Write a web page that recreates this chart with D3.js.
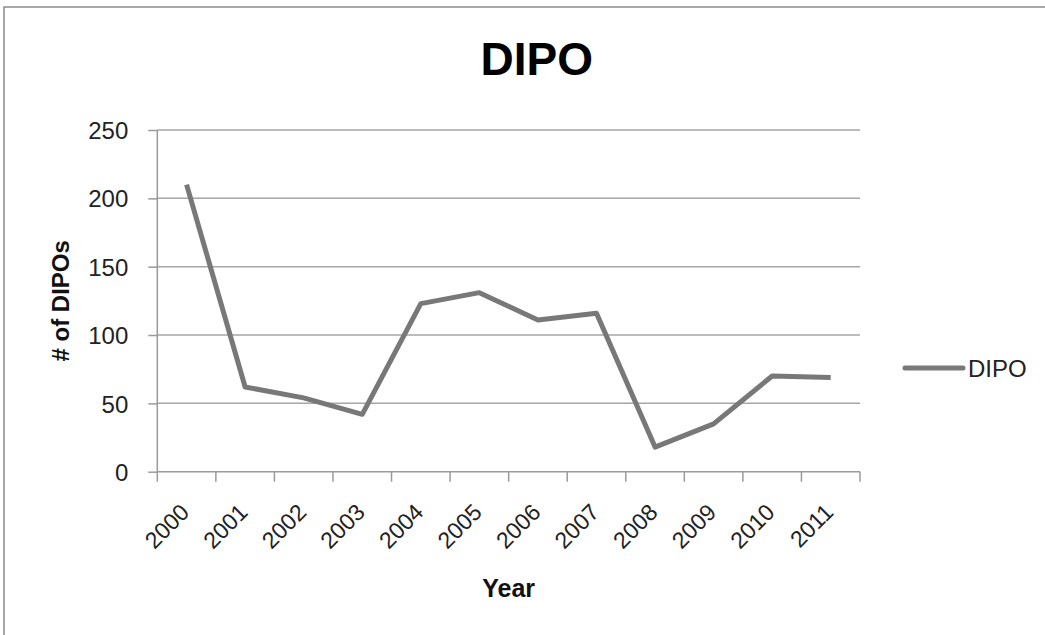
<!DOCTYPE html>
<html>
<head>
<meta charset="utf-8">
<script src="https://cdn.jsdelivr.net/npm/d3@7"></script>
<style>
  body { margin: 0; background: #fff; }
  text { font-family: "Liberation Sans", Arial, sans-serif; }
</style>
</head>
<body>
<div id="viz-container"></div>
<script>
// data
const years = ["2000", "2001", "2002", "2003", "2004", "2005",
               "2006", "2007", "2008", "2009", "2010", "2011"];
const dipos = [210, 62, 54, 42, 123, 131, 111, 116, 18, 35, 70, 69];
const yTicks = [0, 50, 100, 150, 200, 250];
const seriesName = "DIPO";

const W = 1045, H = 635;
const svg = d3.select("#viz-container")
    .append("svg")
    .attr("width", W)
    .attr("height", H);

// outer chart frame (only left & top edges visible)
svg.append("rect")
    .attr("x", 4).attr("y", 7)
    .attr("width", W + 20).attr("height", H + 20)
    .attr("fill", "none")
    .attr("stroke", "#8a8a8a")
    .attr("stroke-width", 1.5);

const plot = { left: 157.3, right: 860, top: 130, bottom: 471.7 };

// Scales
const x = d3.scaleBand()
    .domain(years)
    .range([plot.left, plot.right])
    .padding(0);
const y = d3.scaleLinear()
    .domain([0, 250])
    .range([plot.bottom, plot.top]);

// gridlines
svg.append("g")
    .selectAll("line")
    .data(yTicks.filter(d => d > 0))
    .enter().append("line")
    .attr("x1", plot.left).attr("x2", plot.right)
    .attr("y1", d => y(d)).attr("y2", d => y(d))
    .attr("stroke", "#a6a6a6")
    .attr("stroke-width", 1.5);

// Y axis
const yAxis = svg.append("g")
    .attr("transform", `translate(${plot.left},0)`)
    .call(d3.axisLeft(y).tickValues(yTicks).tickSize(9).tickPadding(20));
yAxis.selectAll("path, line").attr("stroke", "#9a9a9a").attr("stroke-width", 1.5);
yAxis.select(".domain").attr("d", `M0,${plot.top}V${plot.bottom}`);
yAxis.selectAll("text")
    .attr("font-size", "24px")
    .attr("font-family", "Liberation Sans, Arial, sans-serif")
    .attr("fill", "#222")
    .attr("dy", "0.36em");

// X axis: baseline + tick marks at category boundaries
const xAxis = svg.append("g");
xAxis.append("line")
    .attr("x1", plot.left).attr("x2", plot.right)
    .attr("y1", plot.bottom).attr("y2", plot.bottom)
    .attr("stroke", "#9a9a9a").attr("stroke-width", 1.5);
xAxis.selectAll(".tick")
    .data(years.concat(["end"]))
    .enter().append("line")
    .attr("x1", d => d === "end" ? plot.right : x(d))
    .attr("x2", d => d === "end" ? plot.right : x(d))
    .attr("y1", plot.bottom).attr("y2", plot.bottom + 10)
    .attr("stroke", "#9a9a9a").attr("stroke-width", 1.5);

xAxis.selectAll(".lbl")
    .data(years)
    .enter().append("text")
    .attr("transform", d => `translate(${x(d) + x.bandwidth() / 2 + 4},${plot.bottom + 42}) rotate(-45)`)
    .attr("text-anchor", "end")
    .attr("font-size", "23px")
    .attr("fill", "#222")
    .text(d => d);

// Line
const line = d3.line()
    .x((d, i) => x(years[i]) + x.bandwidth() / 2)
    .y(d => y(d));

svg.append("path")
    .datum(dipos)
    .attr("d", line)
    .attr("fill", "none")
    .attr("stroke", "#787878")
    .attr("stroke-width", 5)
    .attr("stroke-linejoin", "round");

// Title & axis labels
svg.append("text")
    .attr("x", 536.7).attr("y", 75)
    .attr("text-anchor", "middle")
    .attr("font-size", "46px")
    .attr("font-weight", "bold")
    .attr("fill", "#000")
    .text("DIPO");

svg.append("text")
    .attr("x", 508.7).attr("y", 596.7)
    .attr("text-anchor", "middle")
    .attr("font-size", "25px")
    .attr("font-weight", "bold")
    .attr("fill", "#111")
    .text("Year");

svg.append("text")
    .attr("transform", `translate(69,${(plot.top + plot.bottom) / 2}) rotate(-90)`)
    .attr("text-anchor", "middle")
    .attr("font-size", "24px")
    .attr("font-weight", "bold")
    .attr("fill", "#111")
    .text("# of DIPOs");

// Legend
const legend = svg.append("g").attr("transform", "translate(905,368)");
legend.append("line")
    .attr("x1", 0).attr("x2", 58)
    .attr("y1", 0).attr("y2", 0)
    .attr("stroke", "#787878")
    .attr("stroke-width", 5)
    .attr("stroke-linecap", "round");
legend.append("text")
    .attr("x", 63).attr("y", 8.7)
    .attr("font-size", "24px")
    .attr("fill", "#222")
    .text(seriesName);
</script>
</body>
</html>
